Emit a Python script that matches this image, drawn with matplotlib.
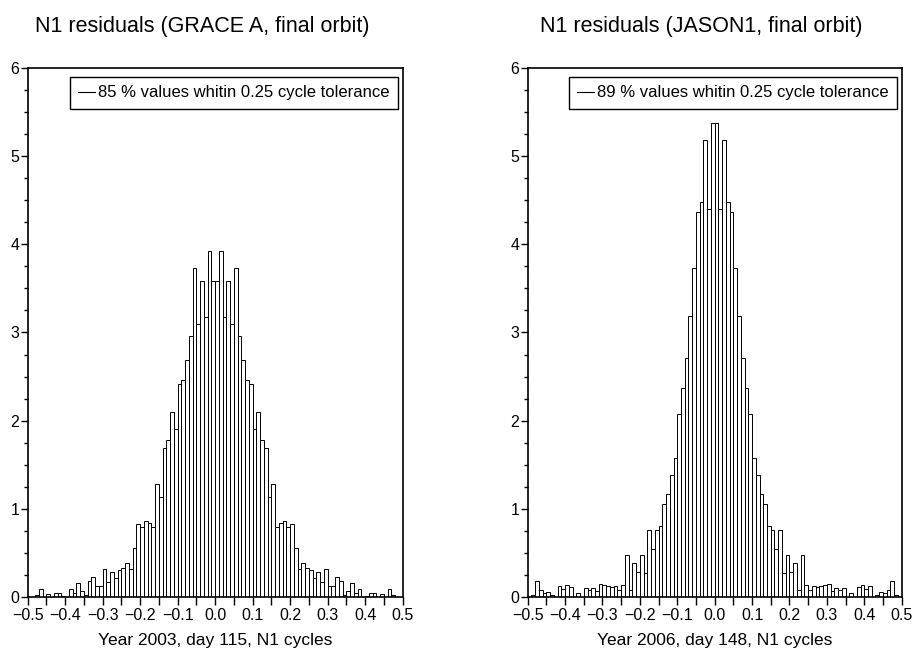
import numpy as np
import matplotlib
matplotlib.use("Agg")
import matplotlib.pyplot as plt
from matplotlib.ticker import MultipleLocator, FuncFormatter

plt.rcParams['font.family'] = ['Liberation Sans', 'DejaVu Sans']

# histogram bins: 100 bins of 0.01 cycle between -0.5 and 0.5
bin_edges = np.linspace(-0.5, 0.5, 101)

# GRACE A, 2003 day 115 (density per bin)
grace_a = [
    0, 0, 0.02, 0.087, 0, 0.03, 0, 0.05, 0.05, 0.01,
    0, 0.087, 0.05, 0.16, 0.07, 0.02, 0.18, 0.23, 0.12, 0.13,
    0.32, 0.17, 0.28, 0.22, 0.31, 0.33, 0.39, 0.32, 0.56, 0.83,
    0.79, 0.86, 0.84, 0.79, 1.28, 1.13, 1.69, 1.78, 2.10, 1.90,
    2.42, 2.46, 2.69, 2.96, 3.73, 3.10, 3.58, 3.18, 3.92, 3.58,
    3.58, 3.92, 3.18, 3.58, 3.10, 3.73, 2.96, 2.69, 2.46, 2.42,
    1.90, 2.10, 1.78, 1.69, 1.13, 1.28, 0.79, 0.84, 0.86, 0.79,
    0.83, 0.56, 0.32, 0.39, 0.33, 0.31, 0.22, 0.28, 0.17, 0.32,
    0.13, 0.12, 0.23, 0.18, 0.02, 0.07, 0.16, 0.05, 0.087, 0,
    0.01, 0.05, 0.05, 0, 0.03, 0, 0.087, 0.02, 0, 0,
]

# JASON1, 2006 day 148
jason1 = [
    0, 0.026, 0.18, 0.083, 0.05, 0.06, 0.026, 0, 0.13, 0.095,
    0.14, 0.11, 0, 0.05, 0, 0.105, 0.075, 0.10, 0.064, 0.15,
    0.14, 0.13, 0.11, 0.12, 0.083, 0.14, 0.48, 0.083, 0.38, 0.28,
    0.48, 0.27, 0.76, 0.54, 0.76, 0.80, 1.05, 1.17, 1.38, 1.58,
    2.07, 2.37, 2.71, 3.19, 3.73, 4.37, 4.48, 5.18, 4.40, 5.38,
    5.38, 4.40, 5.18, 4.48, 4.37, 3.73, 3.19, 2.71, 2.37, 2.07,
    1.58, 1.38, 1.17, 1.05, 0.80, 0.76, 0.54, 0.76, 0.27, 0.48,
    0.28, 0.38, 0.083, 0.48, 0.14, 0.083, 0.12, 0.11, 0.13, 0.14,
    0.15, 0.064, 0.10, 0.075, 0.105, 0, 0.05, 0, 0.11, 0.14,
    0.095, 0.13, 0, 0.026, 0.06, 0.05, 0.083, 0.18, 0.026, 0,
]

titles = ['N1 residuals (GRACE A, final orbit)', 'N1 residuals (JASON1, final orbit)']
xlabels = ['Year 2003, day 115, N1 cycles', 'Year 2006, day 148, N1 cycles']
legend_labels = ['85 % values whitin 0.25 cycle tolerance',
                 '89 % values whitin 0.25 cycle tolerance']


def minus_fmt(v, pos):
    return f'{v:.1f}'.replace('-', '\u2212')


fig = plt.figure(figsize=(9.15, 6.59), dpi=100)
axes = [fig.add_axes([0.0303, 0.0941, 0.4098, 0.8027]),
        fig.add_axes([0.5767, 0.0941, 0.4087, 0.8027])]

for ax, values, title, xlabel, lab in zip(axes, [grace_a, jason1], titles, xlabels, legend_labels):
    ax.bar(bin_edges[:-1], values, width=np.diff(bin_edges), align='edge',
           facecolor='white', edgecolor='black', linewidth=0.7)
    # empty line, only for the legend handle
    ax.plot([], [], color='black', linewidth=0.8, label=lab)

    ax.set_xlim(-0.5, 0.5)
    ax.set_ylim(0, 6)
    ax.xaxis.set_major_locator(MultipleLocator(0.1))
    ax.xaxis.set_minor_locator(MultipleLocator(0.05))
    ax.xaxis.set_major_formatter(FuncFormatter(minus_fmt))
    ax.yaxis.set_major_locator(MultipleLocator(1))
    ax.yaxis.set_minor_locator(MultipleLocator(0.25))
    ax.tick_params(axis='x', which='both', direction='out', length=6, width=1, labelsize=11.5, pad=2)
    ax.tick_params(axis='y', which='major', direction='out', length=5, width=1, labelsize=11.5, pad=1)
    ax.tick_params(axis='y', which='minor', direction='out', length=3, width=1)
    for sp in ax.spines.values():
        sp.set_linewidth(1.2)

    ax.set_title(title, fontsize=15.5, x=0.465, pad=26)
    ax.set_xlabel(xlabel, fontsize=12.5, labelpad=7)

    leg = ax.legend(loc='upper right', bbox_to_anchor=(0.9875, 0.983), borderaxespad=0,
                    fontsize=12, handlelength=1.0, handletextpad=0.2, borderpad=0.5,
                    fancybox=False, framealpha=1, edgecolor='black')
    leg.get_frame().set_linewidth(1.0)

fig.savefig('out.png', dpi=100)
